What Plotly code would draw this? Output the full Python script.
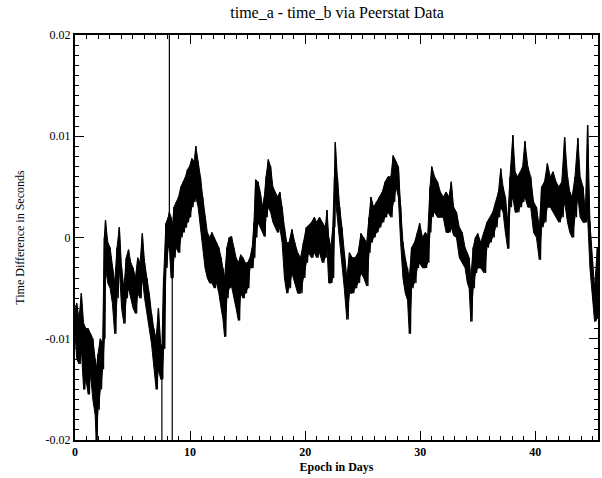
import plotly.graph_objects as go

# Envelope of the noisy signal: day, upper value, lower value (seconds)
day = [0.00, 0.15, 0.35, 0.55, 0.75, 0.95, 1.15, 1.35, 1.55, 1.75, 1.85, 2.00, 2.20, 2.40,
       2.55, 2.65, 2.85, 3.05, 3.25, 3.45, 3.65, 3.85, 4.05, 4.25, 4.45, 4.65, 4.85, 5.05,
       5.25, 5.45, 5.65, 5.85, 6.05, 6.25, 6.45, 6.65, 6.85, 7.05, 7.25, 7.45, 7.55, 7.70,
       7.90, 8.10, 8.20, 8.35, 8.45, 8.60, 8.80, 9.00, 9.20, 9.40, 9.60, 9.77, 9.95, 10.15,
       10.35, 10.50, 10.70, 10.90, 11.10, 11.30, 11.50, 11.70, 11.90, 12.10, 12.30, 12.50,
       12.70, 12.85, 13.00, 13.20, 13.40, 13.60, 13.80, 14.00, 14.20, 14.40, 14.60, 14.80,
       15.00, 15.20, 15.40, 15.55, 15.70, 15.90, 16.10, 16.30, 16.45, 16.60, 16.80, 17.00,
       17.20, 17.40, 17.60, 17.80, 18.00, 18.20, 18.40, 18.60, 18.85, 19.10, 19.35, 19.60,
       19.85, 20.10, 20.30, 20.55, 20.80, 21.00, 21.25, 21.50, 21.75, 21.90, 22.05, 22.25,
       22.40, 22.55, 22.62, 22.80, 23.00, 23.20, 23.40, 23.62, 23.85, 24.10, 24.35, 24.60,
       24.85, 25.10, 25.35, 25.55, 25.72, 25.95, 26.20, 26.45, 26.70, 26.95, 27.20, 27.45,
       27.65, 27.90, 28.10, 28.30, 28.50, 28.70, 28.90, 29.05, 29.25, 29.50, 29.75, 29.95,
       30.20, 30.45, 30.65, 30.85, 31.00, 31.25, 31.50, 31.75, 32.00, 32.25, 32.50, 32.70,
       32.90, 33.15, 33.40, 33.65, 33.90, 34.10, 34.25, 34.40, 34.60, 34.80, 35.00, 35.25,
       35.55, 35.80, 36.05, 36.30, 36.55, 36.80, 37.00, 37.20, 37.40, 37.60, 37.80, 38.05,
       38.25, 38.45, 38.70, 38.90, 39.10, 39.35, 39.60, 39.85, 40.10, 40.35, 40.55, 40.80,
       41.05, 41.30, 41.55, 41.80, 42.05, 42.30, 42.55, 42.80, 43.00, 43.20, 43.45, 43.70,
       43.90, 44.15, 44.35, 44.55, 44.75, 44.95, 45.15, 45.40]

upper = [-0.0070, -0.0065, -0.0080, -0.0055, -0.0085, -0.0090, -0.0090, -0.0095, -0.0100, -0.0120,
         -0.0130, -0.0115, -0.0100, -0.0105, 0.0000, 0.0017, -0.0005, -0.0010, -0.0030, -0.0045,
         -0.0010, 0.0010, -0.0030, -0.0050, -0.0020, -0.0012, -0.0025, -0.0030, -0.0040, -0.0020,
         -0.0025, 0.0004, -0.0025, -0.0040, -0.0055, -0.0075, -0.0090, -0.0100, -0.0070, -0.0105,
         -0.0110, -0.0040, 0.0014, 0.0020, 0.0025, 0.0020, 0.0010, 0.0030, 0.0035, 0.0040,
         0.0050, 0.0055, 0.0060, 0.0067, 0.0070, 0.0078, 0.0075, 0.0090, 0.0075, 0.0060,
         0.0040, 0.0020, 0.0005, 0.0000, 0.0005, 0.0000, -0.0005, -0.0010, -0.0020, -0.0030,
         -0.0040, -0.0010, 0.0000, 0.0001, -0.0010, -0.0020, -0.0025, -0.0017, -0.0020, -0.0025,
         -0.0025, -0.0020, -0.0010, 0.0015, 0.0057, 0.0055, 0.0045, 0.0030, 0.0040, 0.0060,
         0.0077, 0.0070, 0.0050, 0.0045, 0.0040, 0.0045, 0.0030, 0.0010, -0.0005, -0.0005,
         0.0008, -0.0005, -0.0015, -0.0020, -0.0005, 0.0010, 0.0012, 0.0015, 0.0020, 0.0015,
         0.0020, 0.0015, 0.0010, 0.0027, 0.0000, -0.0010, 0.0010, 0.0060, 0.0094, 0.0060,
         0.0030, 0.0010, -0.0015, -0.0040, -0.0015, -0.0020, -0.0020, -0.0015, 0.0004, 0.0000,
         -0.0005, 0.0020, 0.0040, 0.0030, 0.0035, 0.0040, 0.0045, 0.0055, 0.0060, 0.0060,
         0.0081, 0.0075, 0.0070, 0.0030, -0.0005, -0.0020, -0.0030, -0.0040, -0.0010, -0.0005,
         0.0005, 0.0014, 0.0000, 0.0005, 0.0002, 0.0050, 0.0070, 0.0060, 0.0055, 0.0045,
         0.0040, 0.0045, 0.0040, 0.0055, 0.0030, 0.0025, 0.0010, 0.0005, -0.0010, -0.0015,
         -0.0020, -0.0040, -0.0010, 0.0000, 0.0004, -0.0005, 0.0005, 0.0015, 0.0020, 0.0025,
         0.0035, 0.0045, 0.0068, 0.0050, 0.0040, 0.0015, 0.0060, 0.0101, 0.0065, 0.0060,
         0.0065, 0.0070, 0.0095, 0.0070, 0.0060, 0.0035, 0.0030, 0.0010, 0.0050, 0.0055,
         0.0073, 0.0060, 0.0065, 0.0055, 0.0050, 0.0055, 0.0099, 0.0060, 0.0045, 0.0040,
         0.0060, 0.0098, 0.0060, 0.0050, 0.0025, 0.0111, 0.0015, -0.0020, -0.0050, -0.0010]

lower = [-0.0095, -0.0120, -0.0125, -0.0110, -0.0150, -0.0140, -0.0155, -0.0135, -0.0160, -0.0175,
         -0.0200, -0.0170, -0.0150, -0.0130, -0.0100, -0.0030, -0.0045, -0.0050, -0.0065, -0.0095,
         -0.0060, -0.0030, -0.0070, -0.0085, -0.0060, -0.0050, -0.0060, -0.0070, -0.0075, -0.0055,
         -0.0060, -0.0040, -0.0060, -0.0075, -0.0090, -0.0105, -0.0125, -0.0150, -0.0130, -0.0140,
         -0.0140, -0.0110, -0.0030, -0.0010, -0.0010, -0.0040, -0.0040, -0.0020, -0.0010, -0.0015,
         0.0000, 0.0005, 0.0010, 0.0015, 0.0020, 0.0030, 0.0035, 0.0040, 0.0030, 0.0010,
         -0.0010, -0.0030, -0.0040, -0.0045, -0.0045, -0.0050, -0.0045, -0.0055, -0.0070, -0.0080,
         -0.0098, -0.0060, -0.0050, -0.0048, -0.0060, -0.0070, -0.0082, -0.0055, -0.0060, -0.0055,
         -0.0050, -0.0030, -0.0030, -0.0020, 0.0000, 0.0015, 0.0010, 0.0005, 0.0001, 0.0020,
         0.0030, 0.0025, 0.0015, 0.0010, 0.0005, 0.0010, -0.0005, -0.0040, -0.0055, -0.0050,
         -0.0035, -0.0045, -0.0055, -0.0055, -0.0040, -0.0025, -0.0015, -0.0020, -0.0015, -0.0020,
         -0.0015, -0.0025, -0.0020, -0.0010, -0.0045, -0.0045, -0.0040, 0.0010, 0.0040, 0.0025,
         0.0000, -0.0025, -0.0050, -0.0081, -0.0055, -0.0055, -0.0050, -0.0045, -0.0035, -0.0040,
         -0.0048, -0.0015, -0.0005, 0.0000, 0.0005, 0.0010, 0.0015, 0.0020, 0.0025, 0.0020,
         0.0035, 0.0050, 0.0040, -0.0005, -0.0040, -0.0055, -0.0062, -0.0095, -0.0050, -0.0045,
         -0.0030, -0.0025, -0.0030, -0.0030, -0.0025, 0.0005, 0.0020, 0.0025, 0.0020, 0.0020,
         0.0020, 0.0005, 0.0005, 0.0010, 0.0002, 0.0000, -0.0020, -0.0025, -0.0030, -0.0045,
         -0.0050, -0.0083, -0.0050, -0.0035, -0.0030, -0.0030, -0.0035, -0.0010, -0.0005, 0.0000,
         0.0010, 0.0020, 0.0030, 0.0025, 0.0005, -0.0011, 0.0030, 0.0040, 0.0025, 0.0025,
         0.0030, 0.0035, 0.0040, 0.0030, 0.0030, 0.0005, 0.0000, -0.0022, 0.0010, 0.0015,
         0.0030, 0.0030, 0.0025, 0.0020, 0.0015, 0.0020, 0.0035, 0.0015, 0.0005, 0.0000,
         0.0020, 0.0040, 0.0020, 0.0015, 0.0015, 0.0020, -0.0030, -0.0060, -0.0083, -0.0080]

# Single-sample glitches that run off the chart (clipped at the frame)
glitch_day = [1.85, 7.55, 8.20, 8.45]
glitch_top = [-0.0170, -0.0110, 0.0250, -0.0010]
glitch_bottom = [-0.0250, -0.0250, 0.0000, -0.0250]

x_ticks = [0, 10, 20, 30, 40]
y_ticks = [-0.02, -0.01, 0, 0.01, 0.02]
y_tick_text = ["-0.02", "-0.01", "0", "0.01", "0.02"]

# Saw-tooth path: upper value at each sample, lower value halfway to the next one
xs, ys = [], []
for i in range(len(day)):
    nxt = day[i + 1] if i + 1 < len(day) else day[i] + 0.1
    xs += [day[i], (day[i] + nxt) / 2]
    ys += [upper[i], lower[i]]

# Glitch segments
gx, gy = [], []
for d, t, b in zip(glitch_day, glitch_top, glitch_bottom):
    gx += [d, d, None]
    gy += [t, b, None]

FONT = "Liberation Serif"

fig = go.Figure()
# solid body of the dense trace
fig.add_trace(go.Scatter(x=day + day[::-1], y=upper + lower[::-1], mode="lines",
                         fill="toself", fillcolor="black",
                         line=dict(color="black", width=1.0), hoverinfo="skip"))
# jagged texture
fig.add_trace(go.Scatter(x=xs, y=ys, mode="lines",
                         line=dict(color="black", width=1.4), hoverinfo="skip"))
fig.add_trace(go.Scatter(x=gx, y=gy, mode="lines",
                         line=dict(color="black", width=1.2), hoverinfo="skip"))

fig.update_layout(
    width=602, height=478,
    margin=dict(l=75, r=2, t=35, b=38),
    paper_bgcolor="white", plot_bgcolor="white",
    showlegend=False,
    font=dict(family=FONT, color="black", size=12),
    title=dict(text="time_a - time_b via Peerstat Data", x=0.56, xanchor="center",
               y=0.975, yanchor="middle", font=dict(family=FONT, size=16, color="black")),
)
fig.update_xaxes(
    range=[0, 45.45], tickvals=x_ticks, ticktext=[str(v) for v in x_ticks],
    showgrid=False, zeroline=False,
    showline=True, linecolor="black", linewidth=2, mirror="allticks",
    ticks="inside", ticklen=9, tickwidth=1, tickcolor="black",
    minor=dict(dtick=1, ticks="inside", ticklen=4, tickwidth=1, tickcolor="black", showgrid=False),
    tickfont=dict(family=FONT, size=12, weight="bold"),
    title=dict(text="Epoch in Days", standoff=4, font=dict(family=FONT, size=12, weight="bold")),
)
fig.update_yaxes(
    range=[-0.02, 0.02], tickvals=y_ticks, ticktext=y_tick_text,
    showgrid=False, zeroline=False,
    showline=True, linecolor="black", linewidth=2, mirror="allticks",
    ticks="inside", ticklen=9, tickwidth=1, tickcolor="black",
    minor=dict(dtick=0.001, ticks="inside", ticklen=4, tickwidth=1, tickcolor="black", showgrid=False),
    tickfont=dict(family=FONT, size=12),
    title=dict(text="Time Difference in Seconds", standoff=18, font=dict(family=FONT, size=12)),
)

fig.write_html("out.html")
